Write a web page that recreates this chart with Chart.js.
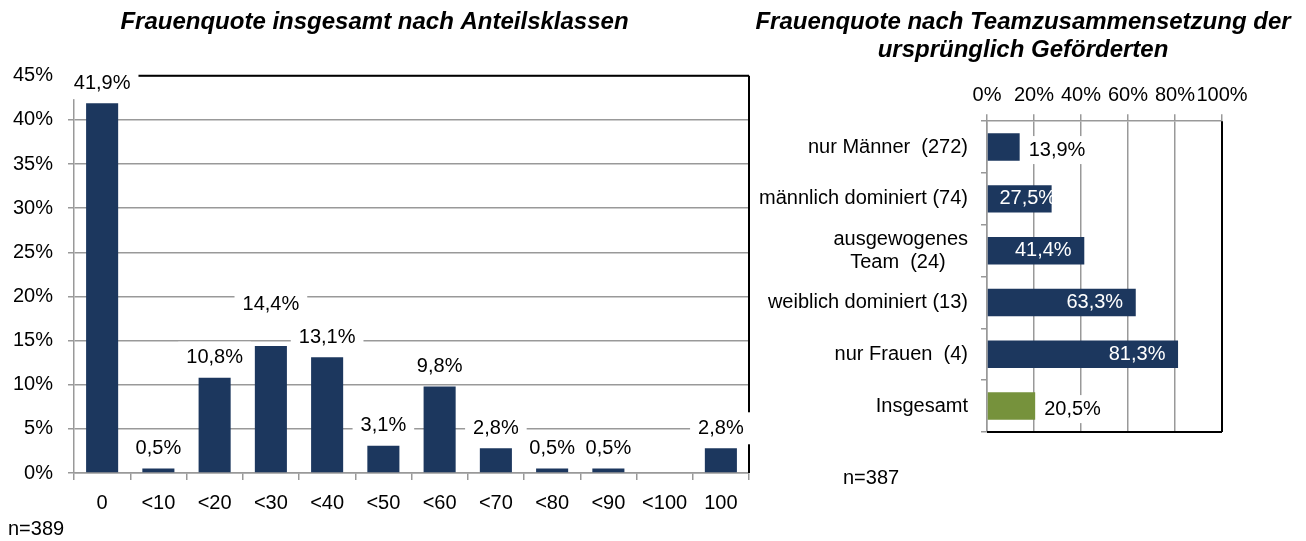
<!DOCTYPE html>
<html lang="de">
<head>
<meta charset="utf-8">
<title>Frauenquote</title>
<script src="https://cdn.jsdelivr.net/npm/chart.js@4/dist/chart.umd.min.js"></script>
<style>
  body { margin: 0; background: #fff; width: 1306px; height: 541px; position: relative; overflow: hidden; }
  canvas { position: absolute; top: 0; }
  #classes { left: 0; }
  #teams { left: 740px; }
  .note { position: absolute; font: 20px "Liberation Sans", Arial, sans-serif; line-height: 22px; color: #000; }
</style>
</head>
<body>
<canvas id="classes" width="752" height="541"></canvas>
<canvas id="teams" width="566" height="541"></canvas>
<div class="note" style="left:8px; top:517px;">n=389</div>
<div class="note" style="left:843px; top:466px;">n=387</div>
<script>
'use strict';

// Anteilsklassen (Frauenanteil in %) und Anteil der Projekte
const classLabels = ['0', '<10', '<20', '<30', '<40', '<50', '<60', '<70', '<80', '<90', '<100', '100'];
const classShares = [41.9, 0.5, 10.8, 14.4, 13.1, 3.1, 9.8, 2.8, 0.5, 0.5, 0, 2.8];

// Teamzusammensetzung der ursprünglich Geförderten
// (trailing blanks keep the second line roughly centred under the first)
const teamLabels = ['nur Männer  (272)', 'männlich dominiert (74)', ['ausgewogenes', 'Team  (24)    '],
  'weiblich dominiert (13)', 'nur Frauen  (4)', 'Insgesamt'];
const teamShares = [13.9, 27.5, 41.4, 63.3, 81.3, 20.5];

const NAVY = '#1c375e';
const GREEN = '#76923c';
const GRID = '#999999';
const FONT = '"Liberation Sans", Arial, sans-serif';

Chart.defaults.font.family = FONT;
Chart.defaults.font.size = 20;
Chart.defaults.color = '#000';
Chart.defaults.animation = false;

function pct(v) {
  return v.toFixed(1).replace('.', ',') + '%';
}

function labelBox(ctx, text, cx, cy) {
  const w = ctx.measureText(text).width + 16;
  ctx.fillStyle = '#fff';
  ctx.fillRect(cx - w / 2, cy - 16, w, 32);
}

// black frame lines on the given sides of the plot area
const frame = {
  id: 'frame',
  beforeDatasetsDraw(chart, args, opts) {
    const a = chart.chartArea;
    const ctx = chart.ctx;
    ctx.save();
    ctx.strokeStyle = '#000';
    ctx.lineWidth = 2;
    ctx.beginPath();
    if (opts.top) { ctx.moveTo(a.left, a.top); ctx.lineTo(a.right, a.top); }
    if (opts.right) { ctx.moveTo(a.right, a.top); ctx.lineTo(a.right, a.bottom); }
    if (opts.bottom) { ctx.moveTo(a.left, a.bottom); ctx.lineTo(a.right, a.bottom); }
    ctx.stroke();
    ctx.restore();
  }
};

// value labels above the columns, on a white box
const columnValues = {
  id: 'columnValues',
  afterDatasetsDraw(chart, args, opts) {
    const ctx = chart.ctx;
    const meta = chart.getDatasetMeta(0);
    const data = chart.data.datasets[0].data;
    ctx.save();
    ctx.font = '20px ' + FONT;
    ctx.textAlign = 'center';
    ctx.textBaseline = 'middle';
    meta.data.forEach((bar, i) => {
      if (!data[i]) return;
      const text = pct(data[i]);
      const cy = bar.y - 20 - (opts.lift[i] || 0);
      labelBox(ctx, text, bar.x, cy);
      ctx.fillStyle = '#000';
      ctx.fillText(text, bar.x, cy);
    });
    ctx.restore();
  }
};

// value labels of the horizontal bars: inside in white, or behind the bar end
const barValues = {
  id: 'barValues',
  afterDatasetsDraw(chart) {
    const ctx = chart.ctx;
    const meta = chart.getDatasetMeta(0);
    const data = chart.data.datasets[0].data;
    ctx.save();
    ctx.font = '20px ' + FONT;
    ctx.textBaseline = 'middle';
    meta.data.forEach((bar, i) => {
      const text = pct(data[i]);
      const w = ctx.measureText(text).width;
      if (data[i] >= 25 && i < data.length - 1) {
        ctx.textAlign = 'center';
        ctx.fillStyle = '#fff';
        ctx.fillText(text, Math.max(bar.x - 41, bar.base + 40), bar.y);
      } else {
        const x = bar.x + 9;
        const y = bar.y + 3;
        ctx.fillStyle = '#fff';
        ctx.fillRect(x - 4, y - 14, w + 8, 28);
        ctx.textAlign = 'left';
        ctx.fillStyle = '#000';
        ctx.fillText(text, x, y);
      }
    });
    ctx.restore();
  }
};

new Chart(document.getElementById('classes'), {
  type: 'bar',
  data: {
    labels: classLabels,
    datasets: [{
      data: classShares,
      backgroundColor: NAVY,
      barPercentage: 0.57,
      categoryPercentage: 1
    }]
  },
  plugins: [frame, columnValues],
  options: {
    responsive: false,
    layout: { padding: { left: 0, right: 3, top: 0, bottom: 0 } },
    plugins: {
      legend: { display: false },
      tooltip: { enabled: false },
      title: {
        display: true,
        text: 'Frauenquote insgesamt nach Anteilsklassen',
        font: { size: 24, weight: 'bold', style: 'italic', lineHeight: 1.2 },
        padding: { top: 8, bottom: 39 }
      },
      frame: { top: true, right: true },
      columnValues: { lift: { 3: 21 } }
    },
    scales: {
      x: {
        grid: { drawOnChartArea: false, color: GRID, lineWidth: 1.5, tickLength: 7 },
        border: { color: GRID, width: 1.5 },
        ticks: { padding: 11, maxRotation: 0, autoSkip: false },
        afterFit(scale) { scale.height = 68; }
      },
      y: {
        min: 0,
        max: 45,
        ticks: { stepSize: 5, padding: 15, callback: v => v + '%' },
        grid: { color: GRID, lineWidth: 1.5, tickLength: 6 },
        border: { color: GRID, width: 1.5 },
        afterFit(scale) { scale.width = 74; }
      }
    }
  }
});

new Chart(document.getElementById('teams'), {
  type: 'bar',
  data: {
    labels: teamLabels,
    datasets: [{
      data: teamShares,
      backgroundColor: teamShares.map((v, i) => i === teamShares.length - 1 ? GREEN : NAVY),
      barPercentage: 0.53,
      categoryPercentage: 1
    }]
  },
  plugins: [frame, barValues],
  options: {
    responsive: false,
    indexAxis: 'y',
    layout: { padding: { left: 0, right: 0, top: 0, bottom: 109 } },
    plugins: {
      legend: { display: false },
      tooltip: { enabled: false },
      title: {
        display: true,
        text: ['Frauenquote nach Teamzusammensetzung der', 'ursprünglich Geförderten'],
        font: { size: 24, weight: 'bold', style: 'italic', lineHeight: 1.17 },
        padding: { top: 8, bottom: 17 }
      },
      frame: { right: true, bottom: true }
    },
    scales: {
      x: {
        position: 'top',
        min: 0,
        max: 100,
        ticks: { stepSize: 20, padding: 7, maxRotation: 0, autoSkip: false, callback: v => v + '%' },
        grid: { color: GRID, lineWidth: 1.5, tickLength: 7 },
        border: { color: GRID, width: 1.5 },
        afterFit(scale) { scale.height = 40; }
      },
      y: {
        ticks: { padding: 13, autoSkip: false, font: { lineHeight: 1.15 } },
        grid: { drawOnChartArea: false, color: GRID, lineWidth: 1.5, tickLength: 6 },
        border: { color: GRID, width: 1.5 },
        afterFit(scale) { scale.width = 247; }
      },
      // empty margin on the right of the plot
      gap: {
        type: 'linear',
        axis: 'y',
        position: 'right',
        ticks: { display: false },
        grid: { display: false },
        border: { display: false },
        afterFit(scale) { scale.width = 84; }
      }
    }
  }
});
</script>
</body>
</html>
